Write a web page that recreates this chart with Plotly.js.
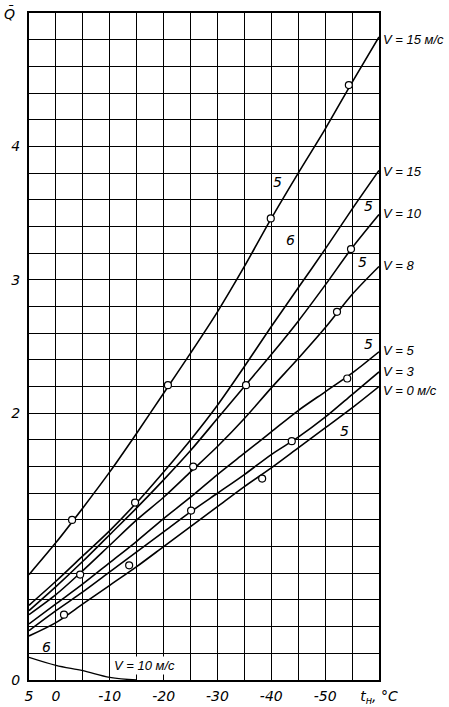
<!DOCTYPE html>
<html><head><meta charset="utf-8">
<script src="https://cdn.plot.ly/plotly-3.0.1.min.js"></script>
<style>html,body{margin:0;padding:0;background:#fff;}</style>
</head><body><div id="chart" style="width:449px;height:707px;"></div>
<script>
// temperatures (outdoor, °C)
const temps = [5, 0, -5, -10, -15, -20, -25, -30, -35, -40, -45, -50, -55, -60];
// curve values Q̄
const v15ms_5 = [0.79, 1.03, 1.29, 1.56, 1.85, 2.15, 2.45, 2.76, 3.10, 3.46, 3.80, 4.13, 4.48, 4.82];
const v15_6   = [0.56, 0.74, 0.93, 1.12, 1.33, 1.56, 1.80, 2.06, 2.35, 2.65, 2.94, 3.23, 3.53, 3.82];
const v10_5   = [0.52, 0.70, 0.89, 1.09, 1.29, 1.50, 1.72, 1.96, 2.20, 2.44, 2.69, 2.96, 3.24, 3.49];
const v8_5    = [0.49, 0.64, 0.82, 1.01, 1.20, 1.37, 1.56, 1.75, 1.96, 2.19, 2.41, 2.64, 2.89, 3.10];
const v5_5    = [0.42, 0.57, 0.72, 0.88, 1.04, 1.21, 1.37, 1.54, 1.70, 1.86, 2.02, 2.16, 2.30, 2.46];
const v3_5    = [0.37, 0.52, 0.66, 0.81, 0.96, 1.11, 1.26, 1.40, 1.54, 1.69, 1.82, 1.97, 2.14, 2.31];
const v0_5    = [0.33, 0.43, 0.57, 0.71, 0.85, 1.00, 1.15, 1.30, 1.45, 1.59, 1.74, 1.89, 2.04, 2.20];
// lower curve V=10 m/s (6)
const lowTemps = [5, 0, -5, -10, -15];
const v10_low  = [0.17, 0.11, 0.07, 0.02, 0.0];
// experimental points
const ptT = [-3.0, -20.8, -39.9, -54.4, -4.5, -14.7, -25.5, -35.3, -54.8, -52.2, -1.5, -13.6, -25.1, -38.3, -43.8, -54.1];
const ptQ = [1.20, 2.21, 3.46, 4.46, 0.79, 1.33, 1.60, 2.21, 3.23, 2.76, 0.49, 0.86, 1.27, 1.51, 1.79, 2.26];
// tick labels
const xTickVals = [5, 0, -5, -10, -15, -20, -25, -30, -35, -40, -45, -50, -55, -60];
const xTickText = ['5', '0', ' ', '-10', ' ', '-20', ' ', '-30', ' ', '-40', ' ', '-50', ' ', 't<sub>н</sub>, °C'];
const yLabelVals = [0, 2, 3, 4];
const yLabelText = ['0', '2', '3', '4'];
// right-hand curve labels
const rightLabels = ['V = 15 м/с', 'V = 15', 'V = 10', 'V = 8', 'V = 5', 'V = 3', 'V = 0 м/с'];
const rightLabelY = [4.80, 3.81, 3.50, 3.11, 2.47, 2.31, 2.17];

const curves = [v15ms_5, v15_6, v10_5, v8_5, v5_5, v3_5, v0_5];
const traces = curves.map(c => ({
  x: temps, y: c, type: 'scatter', mode: 'lines',
  line: {color: '#000', width: 1.6, shape: 'spline', smoothing: 0.8},
  hoverinfo: 'skip', showlegend: false
}));
traces.push({x: lowTemps, y: v10_low, type: 'scatter', mode: 'lines',
  line: {color: '#000', width: 1.4, shape: 'spline'}, showlegend: false});
traces.push({x: ptT, y: ptQ, type: 'scatter', mode: 'markers',
  marker: {symbol: 'circle', size: 7, color: '#fff', line: {color: '#000', width: 1.2}},
  showlegend: false});

// y grid every 0.2, labelled only at some values
const yGridVals = [], yGridText = [];
for (let i = 0; i <= 25; i++) {
  const v = Math.round(i * 0.2 * 10) / 10;
  yGridVals.push(v);
  const k = yLabelVals.indexOf(v);
  yGridText.push(k >= 0 ? yLabelText[k] : ' ');
}

const fontI = {family: 'DejaVu Sans', size: 14, color: '#000', style: 'italic'};
const annFont = {family: 'Liberation Sans', size: 13, color: '#000', style: 'italic'};
const annotations = rightLabels.map((t, i) => ({
  xref: 'paper', yref: 'y', x: 1.006, y: rightLabelY[i], text: t,
  showarrow: false, xanchor: 'left', yanchor: 'middle', font: annFont
}));
const small = [
  {x: -41.1, y: 3.73, t: '5'}, {x: -43.6, y: 3.30, t: '6'},
  {x: -58.0, y: 3.55, t: '5'}, {x: -56.9, y: 3.13, t: '5'},
  {x: -58.1, y: 2.52, t: '5'}, {x: -53.6, y: 1.87, t: '5'},
  {x: 1.7, y: 0.25, t: '6'}
];
small.forEach(s => annotations.push({xref: 'x', yref: 'y', x: s.x, y: s.y, text: s.t,
  showarrow: false, font: {family: 'DejaVu Sans', size: 14, color: '#000', style: 'italic'}}));
annotations.push({xref: 'x', yref: 'y', x: -16.5, y: 0.11, text: 'V = 10 м/с',
  showarrow: false, font: annFont, bgcolor: '#fff'});
annotations.push({xref: 'paper', yref: 'paper', x: -0.055, y: 1.0, text: 'Q̄',
  showarrow: false, xanchor: 'center', yanchor: 'middle', font: fontI});

const layout = {
  width: 449, height: 707,
  margin: {l: 29, r: 70, t: 13, b: 27},
  paper_bgcolor: '#fff', plot_bgcolor: '#fff',
  showlegend: false,
  xaxis: {
    range: [5, -60], tickmode: 'array', tickvals: xTickVals, ticktext: xTickText,
    showgrid: true, gridcolor: '#000', gridwidth: 1, zeroline: false,
    showline: true, linecolor: '#000', linewidth: 2, mirror: true,
    ticks: '', tickfont: fontI, ticklabelstandoff: 2
  },
  yaxis: {
    range: [0, 5], tickmode: 'array', tickvals: yGridVals, ticktext: yGridText,
    showgrid: true, gridcolor: '#000', gridwidth: 1, zeroline: false,
    showline: true, linecolor: '#000', linewidth: 2, mirror: true,
    ticks: '', tickfont: fontI, ticklabelstandoff: 4
  },
  annotations: annotations
};
Plotly.newPlot('chart', traces, layout, {displayModeBar: false, staticPlot: true});
</script></body></html>
